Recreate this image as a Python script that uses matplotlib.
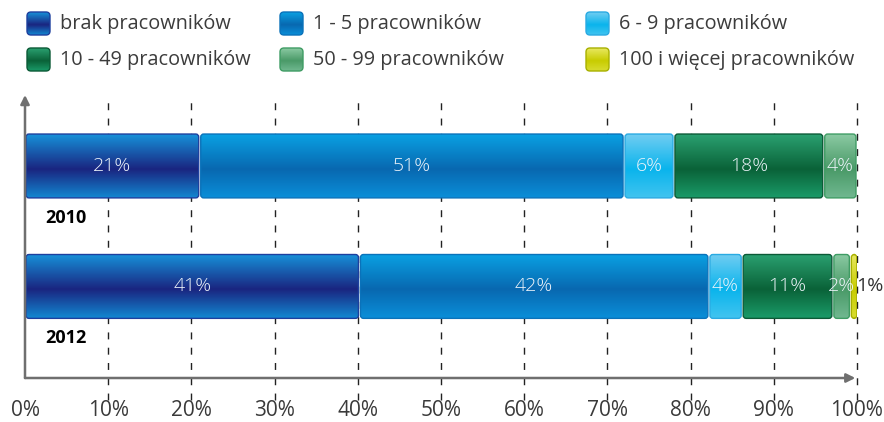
import matplotlib
matplotlib.use("Agg")
import matplotlib.pyplot as plt
import numpy as np
from matplotlib.colors import LinearSegmentedColormap
from matplotlib.patches import FancyBboxPatch

plt.rcParams['font.family'] = ['Open Sans', 'DejaVu Sans']

# --- dane ---
years = ["2010", "2012"]
groups = ["brak pracowników", "1 - 5 pracowników", "6 - 9 pracowników",
          "10 - 49 pracowników", "50 - 99 pracowników", "100 i więcej pracowników"]
share_2010 = [21.0, 51.0, 6.0, 18.0, 4.0, 0.0]
share_2012 = [40.2, 42.0, 4.0, 10.9, 2.1, 0.9]
labels_2010 = ["21%", "51%", "6%", "18%", "4%", ""]
labels_2012 = ["41%", "42%", "4%", "11%", "2%", "1%"]
ticks = [0, 10, 20, 30, 40, 50, 60, 70, 80, 90, 100]
tick_labels = ["0%", "10%", "20%", "30%", "40%", "50%", "60%", "70%", "80%", "90%", "100%"]

# --- styl: gradient (gora, srodek, dol) + obrys ---
GRAD = [
    ("#1790d8", "#1a2580", "#1286d0"),
    ("#0aa0e2", "#0868b0", "#0a8ed8"),
    ("#70cdf2", "#0ab4ec", "#40c4f0"),
    ("#2aa070", "#0a6238", "#1a9a68"),
    ("#8ac9a2", "#4a9a68", "#70b890"),
    ("#e8e860", "#c8cc00", "#d8dc30"),
]
EDGE = ["#1d3f9e", "#0a72ba", "#2aaae2", "#0b5a36", "#3f9c64", "#a8b000"]


def grad_box(ax, x0, y0, w, h, i, r, aspect, extent):
    box = FancyBboxPatch((x0, y0), w, h, boxstyle=f"round,pad=0,rounding_size={r}",
                         mutation_aspect=aspect, fc="none", ec=EDGE[i], lw=1, zorder=3)
    ax.add_patch(box)
    cmap = LinearSegmentedColormap.from_list(
        "g", [(0, GRAD[i][0]), (0.55, GRAD[i][1]), (1, GRAD[i][2])])
    g = np.linspace(0, 1, 80).reshape(-1, 1)
    im = ax.imshow(g, cmap=cmap, extent=extent, aspect="auto", origin="upper",
                   zorder=2, interpolation="bilinear")
    im.set_clip_path(box)


W, H = 884, 422
fig = plt.figure(figsize=(W / 100, H / 100), dpi=100)

# --- legenda (osie w pikselach) ---
lax = fig.add_axes([0, 0, 1, 1])
lax.set_xlim(0, W)
lax.set_ylim(H, 0)
lax.axis("off")
col_x = [27, 280, 586]
row_y = [12, 48]
sq = 23
for i, name in enumerate(groups):
    x0 = col_x[i % 3]
    y0 = row_y[i // 3]
    grad_box(lax, x0, y0, sq, sq, i, 4, 1, (x0, x0 + sq, y0 + sq, y0))
    lax.text(x0 + 33, y0 + sq / 2 + 0.5, name, fontsize=14.3, color="#3c3c3c",
             va="center", ha="left")

# --- wykres ---
ax = fig.add_axes([25 / W, 1 - 378 / H, 832 / W, 283 / H])
ax.set_xlim(0, 100)
ax.set_ylim(-0.76, 1.589)
for s in ax.spines.values():
    s.set_visible(False)
ax.set_yticks([])
ax.set_xticks(ticks)
ax.set_xticklabels(tick_labels, fontsize=15, color="#3a3a3a")
ax.tick_params(axis="x", length=0, pad=16)

p0 = ax.transData.transform([[0, 0], [1, 1]])
px_x = p0[1, 0] - p0[0, 0]
px_y = p0[1, 1] - p0[0, 1]
aspect = px_x / px_y
rad = 3 / px_x
gap = 1.0 / px_x

ax.vlines(ticks[1:], -0.078, 1, transform=ax.get_xaxis_transform(), colors="#222222",
          linestyles=(0, (5, 6)), lw=1, clip_on=False, zorder=1)

bh = 0.53
ypos = [1, 0]
for yc, year, vals, labs in zip(ypos, years, [share_2010, share_2012], [labels_2010, labels_2012]):
    left = 0.0
    for i, (v, lab) in enumerate(zip(vals, labs)):
        if v <= 0:
            continue
        x0 = left + gap
        w = v - 2 * gap
        grad_box(ax, x0, yc - bh / 2, w, bh, i, rad, aspect,
                 (x0, x0 + w, yc - bh / 2, yc + bh / 2))
        if v < 1.5:
            ax.text(left + v / 2 + 1.9, yc, lab, fontsize=14, color="#333333",
                    ha="center", va="center", zorder=5, clip_on=False)
        else:
            ax.text(left + v / 2, yc, lab, fontsize=14, color="#eef4fa",
                    fontweight="light", ha="center", va="center", zorder=5)
        left += v
    ax.text(2.4, yc - 0.43, year, fontsize=13, fontweight="bold", color="black",
            ha="left", va="center")

# strzalki osi
arr = dict(arrowstyle="-|>", color="#6f6f6f", lw=1.8, mutation_scale=13,
           shrinkA=0, shrinkB=0)
ax.annotate("", xy=(0, 1), xytext=(0, 0), xycoords="axes fraction", arrowprops=arr)
ax.annotate("", xy=(0.998, 0), xytext=(0, 0), xycoords="axes fraction", arrowprops=arr)

fig.savefig("out.png", dpi=100)
